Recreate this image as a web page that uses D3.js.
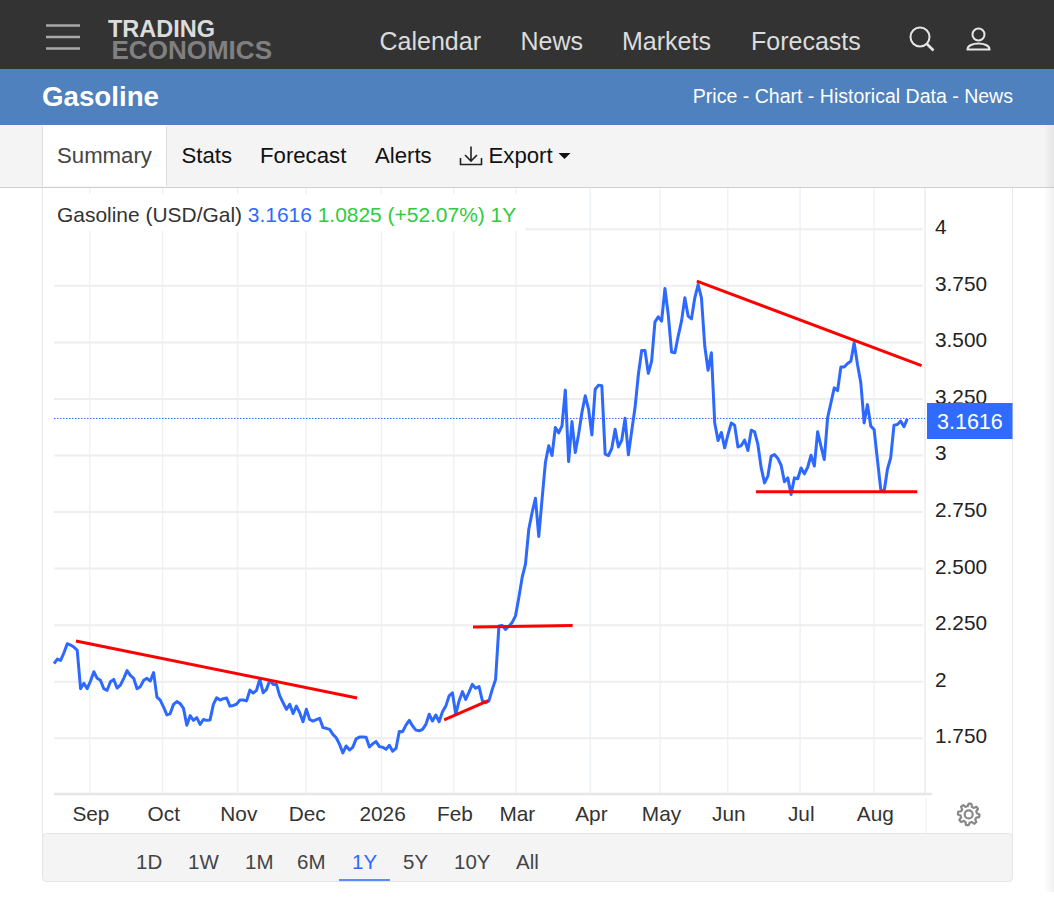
<!DOCTYPE html>
<html>
<head>
<meta charset="utf-8">
<title>Gasoline</title>
<script src="https://cdn.jsdelivr.net/npm/d3@7"></script>
<style>
html, body { margin: 0; padding: 0; background: #fff; overflow: hidden; }
svg { display: block; }
text { font-family: "Liberation Sans", Arial, sans-serif; }
</style>
</head>
<body>
<div id="page"></div>
<script>
// daily closes, one list per month
var aug25 = [2.080,2.100,2.094,2.128,2.168,2.162,2.153,2.139,1.969,1.993,1.969]
var sep25 = [2.003,2.044,2.015,2.006,1.969,1.962,2.000,2.010,1.972,1.985,2.015,2.049,2.028,2.015,1.969,1.978,2.006,2.015,2.003,2.040,1.932,1.919]
var oct25 = [1.888,1.853,1.859,1.900,1.912,1.903,1.882,1.808,1.850,1.829,1.841,1.811,1.833,1.829,1.831,1.900,1.929,1.919,1.925,1.928,1.892,1.895,1.901]
var nov25 = [1.919,1.919,1.915,1.963,1.950,1.962,2.012,1.951,1.966,2.006,1.988,1.988,1.937,1.907,1.878,1.900,1.859,1.892,1.863,1.823]
var dec25 = [1.878,1.833,1.826,1.832,1.838,1.797,1.794,1.789,1.767,1.752,1.723,1.685,1.716,1.698,1.711,1.747,1.755,1.755,1.754,1.711,1.726,1.735,1.713]
var jan26 = [1.710,1.701,1.719,1.693,1.705,1.780,1.779,1.808,1.829,1.804,1.786,1.783,1.789,1.811,1.856,1.826,1.853,1.823,1.867,1.892,1.937,1.951]
var feb26 = [1.856,1.915,1.956,1.922,1.954,1.988,1.971,1.979,1.917,1.907,1.915,1.966,2.010,2.246,2.248,2.231,2.245,2.262,2.291]
var mar26 = [2.372,2.461,2.520,2.674,2.748,2.811,2.642,2.807,2.969,3.043,3.000,3.124,3.100,3.131,3.289,2.973,3.150,3.013,3.094,3.190,3.264,3.205]
var apr26 = [3.091,3.293,3.311,3.308,3.006,3.000,3.032,3.116,3.038,3.068,3.165,3.003,3.109,3.212,3.358,3.464,3.464,3.363,3.417,3.591,3.613]
var may26 = [3.594,3.738,3.623,3.457,3.454,3.528,3.594,3.697,3.616,3.604,3.697,3.756,3.697,3.483,3.377,3.454,3.144,3.066,3.102,3.034]
var jun26 = [3.093,3.144,3.134,3.038,3.044,3.068,3.022,3.112,3.105,3.049,2.945,2.879,2.909,2.997,3.004,2.987,2.957,2.884,2.901,2.828,2.901,2.897]
var jul26 = [2.945,2.919,2.948,3.001,2.953,3.105,3.041,2.982,3.167,3.233,3.299,3.287,3.391,3.391,3.407,3.417,3.498,3.402,3.321,3.144,3.225,3.130]
var aug26 = [3.115,2.982,2.850,2.839,2.938,2.990,3.134,3.137,3.152,3.127,3.1616]

var prices = [].concat(aug25, sep25, oct25, nov25, dec25, jan26, feb26, mar26, apr26, may26, jun26, jul26, aug26)

var y_ticks = [4, 3.75, 3.5, 3.25, 3, 2.75, 2.5, 2.25, 2, 1.75]
var month_labels = ["Sep","Oct","Nov","Dec","2026","Feb","Mar","Apr","May","Jun","Jul","Aug"]
// where each month starts, counted in sessions from the first point
var month_sessions = [10.75,32.7,55.3,75.9,98.6,120.4,139.2,161.5,182.6,202.9,224.7,247]
var last_price = 3.1616

// hand drawn trend lines: session, price
var trend_a = [[6.6,2.180],[91.3,1.928]]
var trend_b = [[117.5,1.831],[130.8,1.916]]
var trend_c = [[126.2,2.242],[156.2,2.248]]
var trend_d = [[193.6,3.771],[261.3,3.397]]
var trend_e = [[211.4,2.840],[260,2.840]]

var nav_items = ["Calendar","News","Markets","Forecasts"]
var nav_x = [379.5,520.5,622,751]
var tab_items = ["Stats","Forecast","Alerts"]
var tab_x = [181.5,260,375]
var range_items = ["1D","1W","1M","6M","1Y","5Y","10Y","All"]
var range_x = [136,188,245,297,352,403,454,516]

var w = 1054, h = 901
var left = 54, right = 925, plot_top = 187, plot_bottom = 794

var svg = d3.select("#page").append("svg").attr("width", w).attr("height", h)

var x = d3.scaleLinear().domain([0, prices.length-1]).range([left, 907.3])
var y = d3.scaleLinear().domain([3, 4]).range([455.5, 229.3])

function put_text(parent, str, px, py, size, color, weight) {
  return parent.append("text").attr("x", px).attr("y", py)
    .attr("font-size", size).attr("fill", color)
    .attr("font-weight", weight || "normal").text(str)
}

// ---- page chrome ----
var defs = svg.append("defs")
var edge = defs.append("linearGradient").attr("id", "edge")
edge.append("stop").attr("offset", "0%").attr("stop-color", "#000").attr("stop-opacity", 0)
edge.append("stop").attr("offset", "100%").attr("stop-color", "#000").attr("stop-opacity", 0.06)

svg.append("rect").attr("width", w).attr("height", 69).attr("fill", "#333333")
svg.append("rect").attr("y", 69).attr("width", w).attr("height", 56).attr("fill", "#4e81bd")
svg.append("rect").attr("y", 125).attr("width", w).attr("height", 62).attr("fill", "#f4f4f4")
svg.append("line").attr("x1", 0).attr("x2", w).attr("y1", 187.5).attr("y2", 187.5).attr("stroke", "#d0d0d0").attr("stroke-width", 1.2)

// hamburger
svg.append("g").selectAll("line").data([25.5, 37, 48.5]).enter().append("line")
  .attr("x1", 46).attr("x2", 80).attr("y1", function(d){return d}).attr("y2", function(d){return d})
  .attr("stroke", "#a8a8a8").attr("stroke-width", 2.6)

// logo
put_text(svg, "TRADING", 108, 37.3, 23, "#dcdcdc", "bold").attr("textLength", 107).attr("lengthAdjust", "spacingAndGlyphs")
put_text(svg, "ECONOMICS", 111.5, 59.3, 25.7, "#808080", "bold").attr("textLength", 160.5).attr("lengthAdjust", "spacingAndGlyphs")

nav_items.forEach(function(d, i){
  put_text(svg, d, nav_x[i], 50, 25, "#dcdcdc")
})

// search + user icons
svg.append("circle").attr("cx", 920).attr("cy", 37).attr("r", 9.5).attr("fill", "none").attr("stroke", "#e6e6e6").attr("stroke-width", 2)
svg.append("line").attr("x1", 927).attr("y1", 44).attr("x2", 933.5).attr("y2", 50.5).attr("stroke", "#e6e6e6").attr("stroke-width", 2.6)
svg.append("circle").attr("cx", 978.5).attr("cy", 34.5).attr("r", 6).attr("fill", "none").attr("stroke", "#e6e6e6").attr("stroke-width", 2)
svg.append("path").attr("d", "M967.5,49.5 C967.5,41.5 989.5,41.5 989.5,49.5 Z").attr("fill", "none").attr("stroke", "#e6e6e6").attr("stroke-width", 2)

put_text(svg, "Gasoline", 42, 106, 27.7, "#ffffff", "bold")
put_text(svg, "Price - Chart - Historical Data - News", 1013, 103, 19.55, "#ffffff").attr("text-anchor", "end")

// tabs
svg.append("rect").attr("x", 42).attr("y", 125).attr("width", 125).attr("height", 61).attr("fill", "#ffffff")
svg.selectAll(".tab-edge").data([42.5, 166.5]).enter().append("line").attr("class", "tab-edge")
  .attr("x1", function(d){return d}).attr("x2", function(d){return d}).attr("y1", 126).attr("y2", 186)
  .attr("stroke", "#dddddd")
put_text(svg, "Summary", 57, 163, 22.2, "#444444")
tab_items.forEach(function(d, i){
  put_text(svg, d, tab_x[i], 163, 22.2, "#111111")
})
put_text(svg, "Export", 488.5, 163, 22.2, "#111111")
svg.append("path").attr("d", "M471,146.5 V160.5 M465,155 L471,161 L477,155 M460.5,158 V164.5 H481.5 V158")
  .attr("fill", "none").attr("stroke", "#222222").attr("stroke-width", 1.6)
svg.append("path").attr("d", "M558.5,153 H570.5 L564.5,159 Z").attr("fill", "#111111")

// card
svg.append("line").attr("x1", 42.5).attr("x2", 42.5).attr("y1", 188).attr("y2", 875).attr("stroke", "#e8e8e8")
svg.append("line").attr("x1", 1012.5).attr("x2", 1012.5).attr("y1", 188).attr("y2", 875).attr("stroke", "#e8e8e8")
svg.append("rect").attr("x", 42.5).attr("y", 833.5).attr("width", 970).attr("height", 48).attr("rx", 4)
  .attr("fill", "#f4f4f4").attr("stroke", "#e4e4e8")

// ---- grid ----
svg.append("g").selectAll("line").data(month_sessions).enter().append("line")
  .attr("x1", function(d){return x(d)}).attr("x2", function(d){return x(d)})
  .attr("y1", plot_top+1).attr("y2", plot_bottom)
  .attr("stroke", "#edf2f7").attr("stroke-width", 1.5)

svg.append("g").selectAll("line").data(y_ticks).enter().append("line")
  .attr("x1", left).attr("x2", 923)
  .attr("y1", function(d){return y(d)}).attr("y2", function(d){return y(d)})
  .attr("stroke", "#eeeeee").attr("stroke-width", 2)

svg.append("line").attr("x1", right).attr("x2", right).attr("y1", plot_top+1).attr("y2", plot_bottom)
  .attr("stroke", "#e2e2e2").attr("stroke-width", 1)
svg.append("line").attr("x1", right+1).attr("x2", right+1).attr("y1", plot_bottom+4).attr("y2", 833)
  .attr("stroke", "#eeeeee").attr("stroke-width", 1)
svg.append("line").attr("x1", left).attr("x2", 932).attr("y1", plot_bottom).attr("y2", plot_bottom)
  .attr("stroke", "#e6e6e6").attr("stroke-width", 2.5)

// ---- axes ----
var y_axis = d3.axisRight(y).tickValues(y_ticks).tickSize(0).tickPadding(0)
  .tickFormat(function(d){ return d % 1 === 0 ? String(d) : d.toFixed(3) })
var y_g = svg.append("g").attr("transform", "translate(935,-2.2)").call(y_axis)
y_g.select(".domain").remove()
y_g.selectAll("text").attr("font-size", 20.8).attr("fill", "#222222").attr("font-family", "Liberation Sans")

var x_axis = d3.axisBottom(x).tickValues(month_sessions).tickSize(0).tickPadding(0)
  .tickFormat(function(d, i){ return month_labels[i] })
var x_g = svg.append("g").attr("transform", "translate(0.7,806)").call(x_axis)
x_g.select(".domain").remove()
x_g.selectAll("text").attr("font-size", 20.8).attr("fill", "#333333").attr("font-family", "Liberation Sans")

// ---- marks ----
svg.append("line").attr("x1", left).attr("x2", right)
  .attr("y1", y(last_price)-0.5).attr("y2", y(last_price)-0.5)
  .attr("stroke", "#2f6bff").attr("stroke-width", 1).attr("stroke-dasharray", "1.5,1.5")

var price_line = d3.line().x(function(d, i){return x(i)}).y(function(d){return y(d)})
svg.append("path").datum(prices).attr("d", price_line)
  .attr("fill", "none").attr("stroke", "#2d69ff").attr("stroke-width", 3).attr("stroke-linejoin", "round")

var trend_line = d3.line().x(function(d){return x(d[0])}).y(function(d){return y(d[1])})
svg.append("g").selectAll("path").data([trend_a, trend_b, trend_c, trend_d, trend_e]).enter().append("path")
  .attr("d", trend_line).attr("fill", "none").attr("stroke", "#ff0000").attr("stroke-width", 3)

// last price badge
svg.append("rect").attr("x", 927).attr("y", 403).attr("width", 85.5).attr("height", 36).attr("fill", "#2f6bff")
put_text(svg, last_price.toFixed(4), 937, 429, 21.5, "#ffffff")

// legend with its white box
svg.append("rect").attr("x", 52).attr("y", 194).attr("width", 473).attr("height", 37).attr("fill", "#ffffff")
var legend = svg.append("text").attr("x", 57).attr("y", 222).attr("font-size", 20.95)
legend.append("tspan").attr("fill", "#333333").text("Gasoline (USD/Gal) ")
legend.append("tspan").attr("fill", "#2d69ff").text(last_price.toFixed(4) + " ")
legend.append("tspan").attr("fill", "#2ecc40").text("1.0825 (+52.07%) 1Y")

// gear, eight teeth
var gear_pts = d3.range(48).map(function(i){
  var a = i/48*2*Math.PI
  var r = (i % 6) < 3 ? 10.8 : 8.2
  return [968.7+r*Math.cos(a), 814.4+r*Math.sin(a)]
})
svg.append("path").attr("d", d3.line().curve(d3.curveLinearClosed)(gear_pts))
  .attr("fill", "none").attr("stroke", "#888888").attr("stroke-width", 2.2).attr("stroke-linejoin", "round")
svg.append("circle").attr("cx", 968.7).attr("cy", 814.4).attr("r", 4).attr("fill", "none").attr("stroke", "#888888").attr("stroke-width", 2.2)

// range buttons
range_items.forEach(function(d, i){
  put_text(svg, d, range_x[i], 869, 20.5, d === "1Y" ? "#2d69ff" : "#444444")
})
svg.append("line").attr("x1", 339).attr("x2", 390).attr("y1", 880).attr("y2", 880).attr("stroke", "#2d69ff").attr("stroke-width", 1.6)

// faint scrollbar shade down the right edge
svg.append("rect").attr("x", 1044).attr("y", 125).attr("width", 10).attr("height", 767).attr("fill", "url(#edge)")
</script>
</body>
</html>
